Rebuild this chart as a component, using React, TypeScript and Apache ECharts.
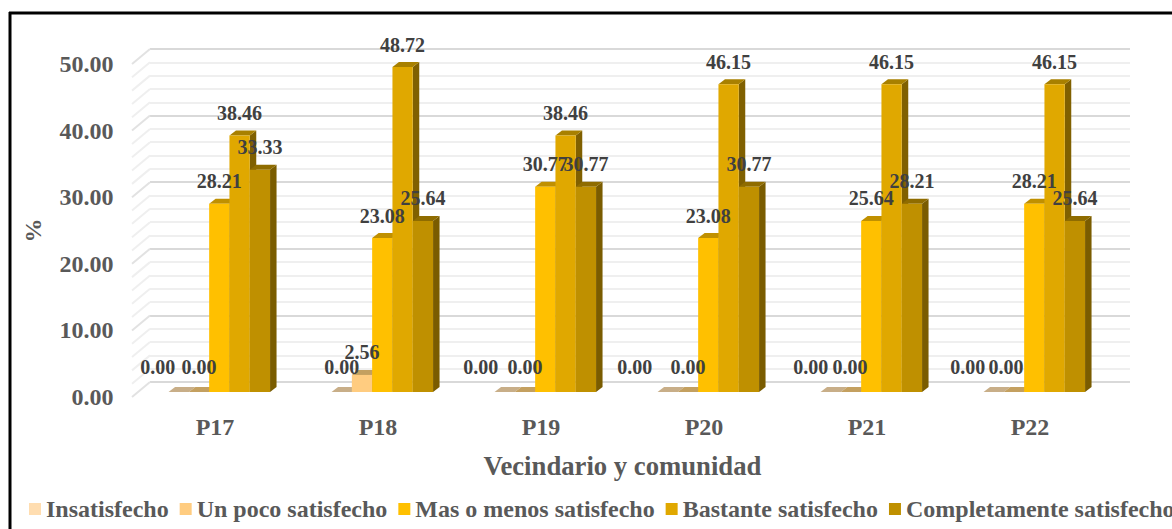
import React, { useEffect, useRef } from "react";
import * as echarts from "echarts";

const categories = ["P17", "P18", "P19", "P20", "P21", "P22"];
const seriesNames = ["Insatisfecho", "Un poco satisfecho", "Mas o menos satisfecho", "Bastante satisfecho", "Completamente satisfecho"];
const insatisfecho = [0, 0, 0, 0, 0, 0];
const unPoco = [0, 2.56, 0, 0, 0, 0];
const masOMenos = [28.21, 23.08, 30.77, 23.08, 25.64, 28.21];
const bastante = [38.46, 48.72, 38.46, 46.15, 46.15, 46.15];
const completamente = [33.33, 25.64, 30.77, 30.77, 28.21, 25.64];
const allValues = [insatisfecho, unPoco, masOMenos, bastante, completamente];
const wallTicks = [0, 2, 4, 6, 8, 10, 12, 14, 16, 18, 20, 22, 24, 26, 28, 30, 32, 34, 36, 38, 40, 42, 44, 46, 48, 50];

const frontColors = ["#FFDDB0", "#FFCC80", "#FFC000", "#E0A800", "#BF9000"];
const topColors = ["#C8AE88", "#C4A060", "#C09000", "#A88000", "#8F6C00"];
const sideColors = ["#B09060", "#B09060", "#8A6C00", "#806000", "#7A5C00"];
// manual offsets of the data labels (px), by series then category
const labelNudgeX = [
  [-21, 0, -24, -33, -20, -26],
  [0, 0, 0, 0, -1, -8],
  [0, 0, 0, 0, 0, 0],
  [0, 0, 0, 0, 0, 0],
  [0, 0, 0, 0, 0, 0],
];

const SERIF = "'Liberation Serif', 'Times New Roman', serif";
const BAR_RATIO = 20.3 / 163;
const DX = 6.5;
const DY = 5;

function barSeries(name: string, values: number[], s: number) {
  return {
    type: "custom",
    name,
    xAxisIndex: 0,
    yAxisIndex: 0,
    z: 3,
    itemStyle: { color: frontColors[s] },
    data: values.map((v, i) => [i, v]),
    encode: { x: 0, y: 1 },
    renderItem: (_p: any, api: any) => {
      const idx = api.value(0);
      const val = api.value(1);
      const [cx, yTop] = api.coord([idx, val]);
      const [, yBase] = api.coord([idx, 0]);
      const w = api.size([1, 0])[0] * BAR_RATIO;
      const x0 = cx + (s - 2.5) * w;
      const x1 = x0 + w;
      return {
        type: "group",
        children: [
          { type: "polygon", shape: { points: [[x1, yBase], [x1 + DX, yBase - DY], [x1 + DX, yTop - DY], [x1, yTop]] }, style: { fill: sideColors[s] } },
          { type: "polygon", shape: { points: [[x0, yTop], [x0 + DX, yTop - DY], [x1 + DX, yTop - DY], [x1, yTop]] }, style: { fill: topColors[s] } },
          { type: "rect", shape: { x: x0, y: yTop, width: w, height: yBase - yTop }, style: { fill: frontColors[s] } },
          {
            type: "text",
            z2: 100,
            style: {
              text: val.toFixed(2),
              x: x0 + w / 2 + labelNudgeX[s][idx],
              y: yTop - (val === 0 ? 25 : 22.5),
              align: "center",
              verticalAlign: "middle",
              fill: "#404040",
              fontFamily: SERIF,
              fontWeight: "bold",
              fontSize: 20,
            },
          },
        ],
      };
    },
  };
}

export default function App() {
  const ref = useRef<HTMLDivElement>(null);
  useEffect(() => {
    const chart = echarts.init(ref.current!, null, { renderer: "svg" });
    chart.setOption({
      animation: false,
      backgroundColor: "#ffffff",
      grid: [
        { left: 137.8, width: 978, top: 58.5, height: 333.5 },
        { left: 150, width: 980, top: 49, height: 333 },
        { left: 133.5, width: 978, top: 64, height: 333 },
      ],
      xAxis: [
        { type: "category", gridIndex: 0, data: categories, show: false },
        { type: "category", gridIndex: 1, data: categories, show: false },
        {
          type: "category",
          gridIndex: 2,
          data: categories,
          axisLine: { show: false },
          axisTick: { show: false },
          axisLabel: { margin: 18, color: "#595959", fontFamily: SERIF, fontWeight: "bold", fontSize: 24 },
          name: "Vecindario y comunidad",
          nameLocation: "middle",
          nameGap: 55,
          nameTextStyle: { color: "#595959", fontFamily: SERIF, fontWeight: "bold", fontSize: 26.7 },
        },
      ],
      yAxis: [
        { type: "value", gridIndex: 0, min: 0, max: 50, interval: 10, show: false },
        {
          type: "value",
          gridIndex: 1,
          min: 0,
          max: 50,
          interval: 10,
          axisLine: { show: false },
          axisTick: { show: false },
          axisLabel: { show: false },
          splitLine: { show: true, lineStyle: { color: "#D9D9D9", width: 2 } },
          minorTick: { show: false, splitNumber: 5 },
          minorSplitLine: { show: true, lineStyle: { color: "#EFEFEF", width: 2 } },
        },
        {
          type: "value",
          gridIndex: 2,
          min: 0,
          max: 50,
          interval: 10,
          axisLine: { show: false },
          axisTick: { show: false },
          splitLine: { show: false },
          axisLabel: { margin: 20, color: "#595959", fontFamily: SERIF, fontWeight: "bold", fontSize: 24, formatter: (v: number) => v.toFixed(2) },
          name: "%",
          nameLocation: "middle",
          nameGap: 89,
          nameTextStyle: { color: "#595959", fontFamily: SERIF, fontWeight: "bold", fontSize: 24 },
        },
      ],
      legend: {
        show: true,
        data: seriesNames,
        left: 24,
        top: 492,
        width: 1500,
        itemWidth: 12,
        itemHeight: 12,
        itemGap: 11,
        icon: "rect",
        textStyle: { color: "#595959", fontFamily: SERIF, fontWeight: "bold", fontSize: 24 },
      },
      graphic: [
        { type: "line", shape: { x1: 9, y1: 13, x2: 1172, y2: 13 }, style: { stroke: "#000000", lineWidth: 3 } },
        { type: "line", shape: { x1: 10, y1: 12, x2: 10, y2: 529 }, style: { stroke: "#000000", lineWidth: 3 } },
      ],
      series: [
        {
          type: "custom",
          xAxisIndex: 2,
          yAxisIndex: 2,
          z: 1,
          silent: true,
          data: wallTicks.map((v) => [0, v]),
          encode: { x: 0, y: 1 },
          renderItem: (p: any, api: any) => {
            const v = api.value(1);
            const y = api.coord([0, v])[1];
            const x = p.coordSys.x - 1.5;
            return {
              type: "line",
              shape: { x1: x, y1: y, x2: x + 18, y2: y - 15 },
              style: { stroke: v % 10 === 0 ? "#E2E2E2" : "#EFEFEF", lineWidth: 2 },
            };
          },
        },
        ...seriesNames.map((n, s) => barSeries(n, allValues[s], s)),
      ],
    });
    return () => chart.dispose();
  }, []);
  return <div ref={ref} style={{ position: "absolute", left: 0, top: 0, width: 1172, height: 529 }} />;
}
